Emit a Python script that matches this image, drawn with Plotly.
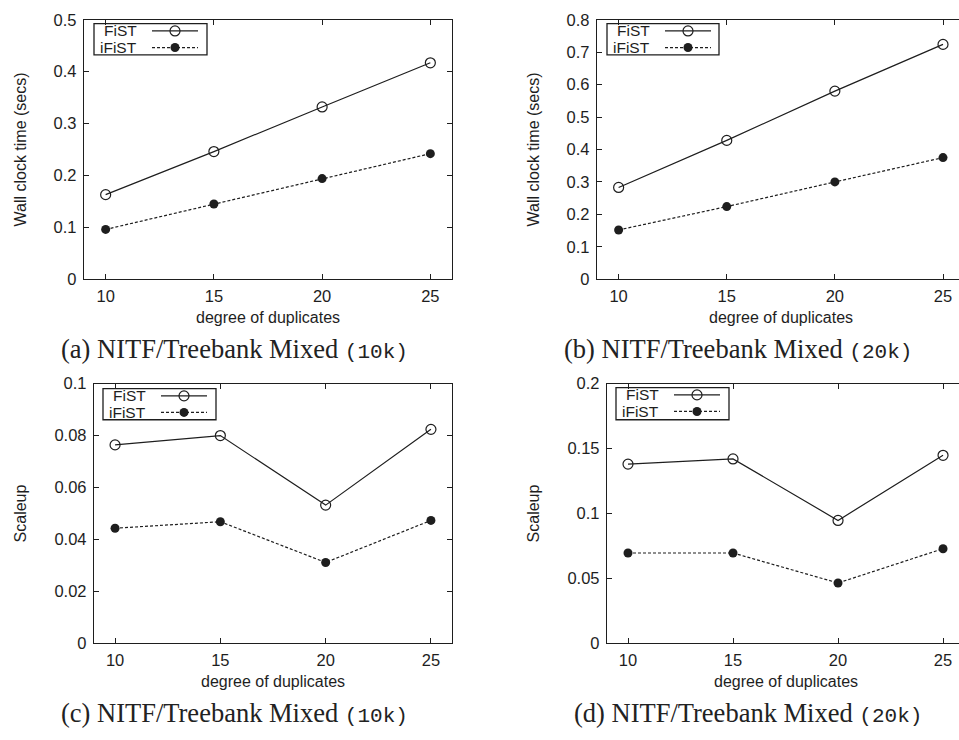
import plotly.graph_objects as go

# ---- data -------------------------------------------------------------
duplicates = [10, 15, 20, 25]

# wall clock time (secs)
fist_time_10k = [0.163, 0.246, 0.332, 0.417]
ifist_time_10k = [0.096, 0.145, 0.194, 0.242]
fist_time_20k = [0.283, 0.428, 0.580, 0.724]
ifist_time_20k = [0.152, 0.224, 0.300, 0.375]

# scaleup
fist_scale_10k = [0.0764, 0.0800, 0.0532, 0.0824]
ifist_scale_10k = [0.0443, 0.0468, 0.0311, 0.0473]
fist_scale_20k = [0.138, 0.142, 0.0946, 0.1448]
ifist_scale_20k = [0.0695, 0.0695, 0.0464, 0.0728]

series_names = ["FiST", "iFiST"]
x_ticks = [10, 15, 20, 25]
y_ticks_time_10k = [0, 0.1, 0.2, 0.3, 0.4, 0.5]
y_ticks_time_20k = [0, 0.1, 0.2, 0.3, 0.4, 0.5, 0.6, 0.7, 0.8]
y_ticks_scale_10k = [0, 0.02, 0.04, 0.06, 0.08, 0.1]
y_ticks_scale_20k = [0, 0.05, 0.1, 0.15, 0.2]

x_title = "degree of duplicates"
y_title_time = "Wall clock time (secs)"
y_title_scale = "Scaleup"
captions = [
    ("(a) NITF/Treebank Mixed ", "(10k)"),
    ("(b) NITF/Treebank Mixed ", "(20k)"),
    ("(c) NITF/Treebank Mixed ", "(10k)"),
    ("(d) NITF/Treebank Mixed ", "(20k)"),
]

# ---- layout geometry (pixels) ----------------------------------------
W, H = 959, 740
INK = "#1e1e1e"
SANS = "Liberation Sans, Arial, sans-serif"
TICK_SIZE = 16.5
LABEL_SIZE = 16
KEY_SIZE = 15.5

panels = [
    dict(box=(84, 452, 11, 277), xr=[9, 26], yticks=y_ticks_time_10k,
         ys=(fist_time_10k, ifist_time_10k), ytitle=y_title_time,
         leg=(94, 207, 15, 47), ytx=20, xtx=268, cap_x=234, cap_y=348, right=True),
    dict(box=(597, 959, 11, 277), xr=[9, 25.74], yticks=y_ticks_time_20k,
         ys=(fist_time_20k, ifist_time_20k), ytitle=y_title_time,
         leg=(607, 719, 15, 47), ytx=533, xtx=781, cap_x=738, cap_y=348, right=False),
    dict(box=(94, 452, 384, 650), xr=[9, 26], yticks=y_ticks_scale_10k,
         ys=(fist_scale_10k, ifist_scale_10k), ytitle=y_title_scale,
         leg=(103, 216, 389, 421), ytx=20, xtx=273, cap_x=234, cap_y=722, right=True),
    dict(box=(607, 959, 384, 650), xr=[9, 25.76], yticks=y_ticks_scale_20k,
         ys=(fist_scale_20k, ifist_scale_20k), ytitle=y_title_scale,
         leg=(616, 729, 388, 421), ytx=533, xtx=786, cap_x=748, cap_y=722, right=False),
]

line_styles = [
    dict(line=dict(color=INK, width=1.2),
         marker=dict(symbol="circle-open", size=10, color=INK, line=dict(width=1.2, color=INK))),
    dict(line=dict(color=INK, width=1.2, dash="3px,2px"),
         marker=dict(symbol="circle", size=9, color=INK, line=dict(width=0))),
]

fig = go.Figure()
layout = dict(width=W, height=H, autosize=False,
              margin=dict(l=0, r=0, t=0, b=0),
              paper_bgcolor="white", plot_bgcolor="rgba(0,0,0,0)",
              showlegend=False, font=dict(family=SANS, color=INK))
annotations = []
shapes = []

for i, p in enumerate(panels, start=1):
    x0, x1, y0, y1 = p["box"]
    xa, ya = f"xaxis{i}", f"yaxis{i}"
    layout[xa] = dict(
        domain=[x0 / W, x1 / W], range=p["xr"], anchor=f"y{i}",
        tickmode="array", tickvals=x_ticks, ticktext=[str(v) for v in x_ticks],
        ticks="inside", ticklen=5, tickwidth=1, tickcolor=INK,
        showline=True, linecolor=INK, linewidth=1.4, mirror="allticks",
        showgrid=False, zeroline=False, ticklabelstandoff=2,
        tickfont=dict(family=SANS, size=TICK_SIZE, color=INK),
    )
    layout[ya] = dict(
        domain=[1 - y1 / H, 1 - y0 / H], range=[p["yticks"][0], p["yticks"][-1]],
        anchor=f"x{i}",
        tickmode="array", tickvals=p["yticks"], ticktext=[f"{v:g}" for v in p["yticks"]],
        ticks="inside", ticklen=5, tickwidth=1, tickcolor=INK,
        showline=True, linecolor=INK, linewidth=1.4,
        mirror="allticks" if p["right"] else False,
        showgrid=False, zeroline=False, ticklabelstandoff=3,
        tickfont=dict(family=SANS, size=TICK_SIZE, color=INK),
    )
    for name, ys, st in zip(series_names, p["ys"], line_styles):
        fig.add_trace(go.Scatter(x=duplicates, y=ys, name=name, mode="lines+markers",
                                 xaxis=f"x{i}", yaxis=f"y{i}", cliponaxis=False, **st))

    # axis titles
    annotations.append(dict(xref="x5", yref="y5", x=p["xtx"], y=y1 + 39, text=x_title,
                            showarrow=False, font=dict(family=SANS, size=LABEL_SIZE, color=INK)))
    annotations.append(dict(xref="x5", yref="y5", x=p["ytx"], y=(y0 + y1) / 2, text=p["ytitle"],
                            textangle=-90, showarrow=False,
                            font=dict(family=SANS, size=LABEL_SIZE, color=INK)))

    # key box with text on the left and sample on the right
    lx0, lx1, ly0, ly1 = p["leg"]
    shapes.append(dict(type="rect", xref="x5", yref="y5", x0=lx0, x1=lx1, y0=ly0, y1=ly1,
                       line=dict(color=INK, width=1.3)))
    rows = [ly0 + 7.5, ly0 + 24.5]
    for name, ry, st in zip(series_names, rows, line_styles):
        annotations.append(dict(xref="x5", yref="y5", x=lx0 + 44, y=ry, text=name,
                                xanchor="right", showarrow=False, borderpad=0,
                                font=dict(family=SANS, size=KEY_SIZE, color=INK)))
        fig.add_trace(go.Scatter(x=[lx0 + 58, lx0 + 104], y=[ry, ry], mode="lines",
                                 line=st["line"], xaxis="x5", yaxis="y5", hoverinfo="skip"))
        fig.add_trace(go.Scatter(x=[lx0 + 81], y=[ry], mode="markers",
                                 marker=st["marker"], xaxis="x5", yaxis="y5", hoverinfo="skip"))

    # caption
    serif, mono = captions[i - 1]
    annotations.append(dict(
        xref="x5", yref="y5", x=p["cap_x"], y=p["cap_y"], showarrow=False,
        text=f'{serif}<span style="font-family:Liberation Mono, monospace;font-size:21px">{mono}</span>',
        font=dict(family="Liberation Serif, Times New Roman, serif", size=26.5, color="#222222")))

# pixel-space overlay used for keys, titles and captions
layout["xaxis5"] = dict(domain=[0, 1], range=[0, W], visible=False, fixedrange=True, anchor="y5")
layout["yaxis5"] = dict(domain=[0, 1], range=[H, 0], visible=False, fixedrange=True, anchor="x5")
layout["annotations"] = annotations
layout["shapes"] = shapes

fig.update_layout(**layout)
fig.write_html("out.html")
